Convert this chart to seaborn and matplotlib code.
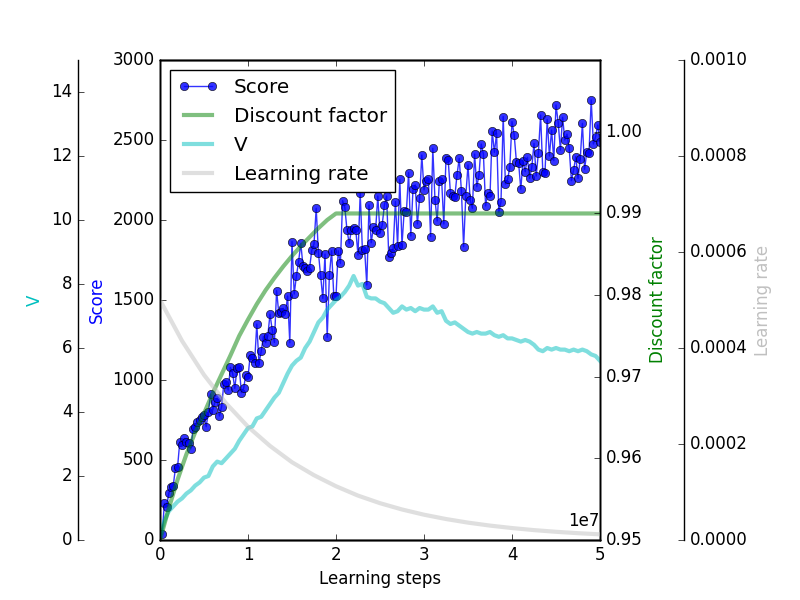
import numpy as np
import matplotlib
matplotlib.use("Agg")
import matplotlib.pyplot as plt
from matplotlib.ticker import FuncFormatter
import seaborn as sns

# Evaluation score, one value every 250k learning steps
score = [
    37, 229, 208, 292, 333, 337, 448, 458, 615, 594,
    635, 615, 604, 569, 692, 708, 740, 750, 771, 781,
    708, 802, 912, 812, 865, 885, 775, 833, 975, 990,
    937, 1079, 1042, 948, 1073, 1079, 921, 948, 1031, 1017,
    1156, 1137, 1108, 1350, 1104, 1180, 1271, 1233, 1275, 1412,
    1312, 1235, 1558, 1417, 1427, 1448, 1412, 1525, 1233, 1865,
    1537, 1650, 1740, 1854, 1712, 1698, 1683, 1700, 1812, 1850,
    2073, 1796, 1656, 1510, 1787, 1267, 1656, 1808, 1525, 1525,
    1808, 1729, 2121, 2079, 1937, 1854, 1937, 1948, 1937, 1781,
    2167, 1812, 1817, 1594, 2094, 1858, 1954, 1937, 2150, 1917,
    1969, 2094, 2150, 1767, 1792, 1823, 2115, 1837, 2254, 1844,
    2058, 2052, 2296, 1900, 2192, 2219, 1975, 2135, 2406, 2188,
    2246, 2254, 1896, 2448, 2125, 1994, 2246, 2254, 1975, 2385,
    2375, 2171, 2150, 2146, 2281, 2385, 2183, 1833, 2150, 2344,
    2125, 2073, 2412, 2208, 2281, 2475, 2412, 2088, 2171, 2150,
    2556, 2423, 2542, 2048, 2115, 2646, 2225, 2254, 2329, 2615,
    2531, 2365, 2358, 2192, 2371, 2302, 2392, 2260, 2329, 2479,
    2275, 2421, 2656, 2302, 2296, 2629, 2400, 2562, 2371, 2719,
    2608, 2437, 2642, 2500, 2537, 2448, 2246, 2312, 2396, 2260,
    2379, 2604, 2317, 2427, 2417, 2750, 2475, 2521, 2594, 2490,
]
score_steps = 250000 * np.arange(1, len(score) + 1)

# V estimate, every 500k steps
v_values = [
    0.15, 0.6, 0.9, 1.05, 1.2, 1.3, 1.45, 1.55, 1.7, 1.8,
    1.95, 2.0, 2.3, 2.45, 2.4, 2.55, 2.7, 2.85, 3.1, 3.3,
    3.5, 3.55, 3.8, 3.85, 4.05, 4.25, 4.45, 4.6, 4.9, 5.2,
    5.45, 5.6, 5.7, 6.0, 6.2, 6.5, 6.8, 6.95, 7.2, 7.35,
    7.5, 7.6, 7.75, 7.95, 8.25, 7.95, 8.0, 7.6, 7.55, 7.55,
    7.45, 7.4, 7.25, 7.1, 7.15, 7.3, 7.2, 7.25, 7.15, 7.25,
    7.2, 7.2, 7.3, 7.1, 7.15, 6.85, 6.75, 6.8, 6.7, 6.6,
    6.5, 6.45, 6.5, 6.45, 6.45, 6.5, 6.4, 6.35, 6.4, 6.3,
    6.3, 6.25, 6.2, 6.25, 6.2, 6.1, 5.95, 5.9, 6.0, 5.95,
    6.0, 5.95, 5.95, 5.9, 5.95, 5.9, 5.95, 5.9, 5.8, 5.75,
    5.6,
]
v_steps = 500000 * np.arange(len(v_values))

# discount factor schedule (flat after 2e7)
gamma_steps = [0, 1e6, 2e6, 3e6, 4e6, 5e6, 6e6, 7e6, 8e6, 9e6, 1e7,
               1.1e7, 1.2e7, 1.3e7, 1.4e7, 1.5e7, 1.6e7, 1.7e7, 1.8e7,
               1.9e7, 2e7, 5e7]
gamma_values = [0.9500, 0.9539, 0.9574, 0.9605, 0.9632, 0.9655, 0.9680,
                0.9703, 0.9726, 0.9750, 0.9770, 0.9789, 0.9806, 0.9821,
                0.9835, 0.9848, 0.9860, 0.9871, 0.9882, 0.9892, 0.9900,
                0.9900]

# learning rate, every 2.5M steps
lr_values = [5.00e-4, 4.15e-4, 3.44e-4, 2.85e-4, 2.36e-4, 1.96e-4, 1.62e-4,
             1.35e-4, 1.12e-4, 9.25e-5, 7.67e-5, 6.36e-5, 5.27e-5, 4.37e-5,
             3.62e-5, 3.00e-5, 2.49e-5, 2.06e-5, 1.71e-5, 1.42e-5, 1.18e-5]
lr_steps = 2500000 * np.arange(len(lr_values))

plt.style.use("classic")
plt.rcParams["savefig.facecolor"] = "white"
plt.rcParams["figure.facecolor"] = "white"

fig, ax = plt.subplots(figsize=(8, 6), dpi=100)
fig.subplots_adjust(left=0.2, right=0.75, bottom=0.1, top=0.9)

ax_v = ax.twinx()
ax_g = ax.twinx()
ax_lr = ax.twinx()

# score
sns.lineplot(x=score_steps, y=score, ax=ax, color="b", marker="o",
             alpha=0.8, linewidth=1, markersize=6, markeredgecolor="k",
             markeredgewidth=0.5, label="Score", legend=False)
# discount factor
sns.lineplot(x=gamma_steps, y=gamma_values, ax=ax_g, color="g", alpha=0.5,
             linewidth=3, label="Discount factor", legend=False)
# V
sns.lineplot(x=v_steps, y=v_values, ax=ax_v, color="c", alpha=0.5,
             linewidth=3, label="V", legend=False)
# learning rate
sns.lineplot(x=lr_steps, y=lr_values, ax=ax_lr, color="silver", alpha=0.5,
             linewidth=3, label="Learning rate", legend=False)

ax.set_xlim(0, 5e7)
ax.set_ylim(0, 3000)
ax_v.set_ylim(0, 15)
ax_g.set_ylim(0.95, 1.0088)
ax_lr.set_ylim(0, 0.001)

ax.xaxis.set_major_formatter(FuncFormatter(lambda v, p: f"{v / 1e7:g}"))
ax.text(1.0, 0.02, "1e7", transform=ax.transAxes, ha="right", va="bottom",
        fontsize=12)
ax.set_xlabel("Learning steps")

ax.set_ylabel("Score", color="b")

# V axis on the far left (outward is in points: 59pt ~ 82px)
ax_v.spines["left"].set_position(("outward", 59))
ax_v.yaxis.set_ticks_position("left")
ax_v.yaxis.set_label_position("left")
ax_v.set_ylabel("V", color="c")

ax_g.set_ylabel("Discount factor", color="g")

ax_lr.spines["right"].set_position(("outward", 60.5))
ax_lr.set_ylabel("Learning rate", color="silver")

for a in (ax_v, ax_g, ax_lr):
    a.set_xlabel("")

handles, labels = [], []
for a in (ax, ax_g, ax_v, ax_lr):
    h, l = a.get_legend_handles_labels()
    handles += h
    labels += l
ax_lr.legend(handles, labels, loc="upper left")

fig.savefig("out.png", dpi=100)
